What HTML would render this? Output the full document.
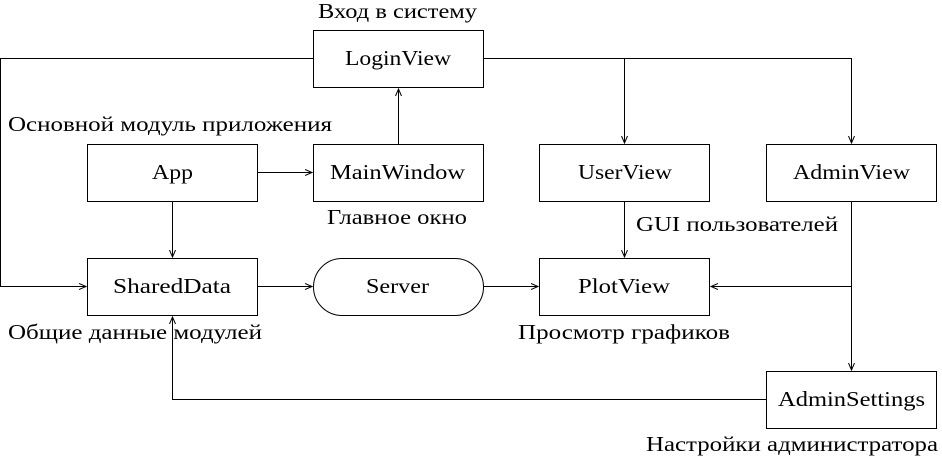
<!DOCTYPE html>
<html><head><meta charset="utf-8"><style>
html,body{margin:0;padding:0;background:#fff;}
svg{display:block;}
text{font-family:"Liberation Serif","DejaVu Serif",serif;font-size:21px;fill:#000;}
</style></head><body>
<svg width="942" height="458" viewBox="0 0 942 458" xmlns="http://www.w3.org/2000/svg">
<defs><marker id="a" markerWidth="8" markerHeight="8" refX="7" refY="4" orient="auto" markerUnits="userSpaceOnUse"><path d="M0,1 L7,4 L0,7" fill="none" stroke="#000" stroke-width="1"/></marker></defs>
<g fill="none" stroke="#000" stroke-width="1">
<rect x="313.5" y="30.5" width="170" height="57"/>
<rect x="87.5" y="144.5" width="170" height="57"/>
<rect x="313.5" y="144.5" width="170" height="57"/>
<rect x="539.5" y="144.5" width="170" height="57"/>
<rect x="766.5" y="144.5" width="170" height="57"/>
<rect x="87.5" y="258.5" width="170" height="57"/>
<rect x="313.5" y="258.5" width="170" height="57" rx="28.5"/>
<rect x="539.5" y="258.5" width="170" height="57"/>
<rect x="766.5" y="371.5" width="170" height="57"/>
<path d="M313.5,58.5 H0.5 V286.5 H86" marker-end="url(#a)"/>
<path d="M483.5,58.5 H851.5 V143" marker-end="url(#a)"/>
<path d="M624.5,58.5 V143" marker-end="url(#a)"/>
<path d="M257.5,172.5 H312" marker-end="url(#a)"/>
<path d="M398.5,144.5 V89" marker-end="url(#a)"/>
<path d="M172.5,201.5 V257" marker-end="url(#a)"/>
<path d="M257.5,286.5 H312" marker-end="url(#a)"/>
<path d="M483.5,286.5 H538" marker-end="url(#a)"/>
<path d="M624.5,201.5 V257" marker-end="url(#a)"/>
<path d="M851.5,201.5 V370" marker-end="url(#a)"/>
<path d="M851.5,286.5 H711" marker-end="url(#a)"/>
<path d="M766.5,399.5 H172.5 V317" marker-end="url(#a)"/>
</g>
<g lengthAdjust="spacingAndGlyphs">
<text x="345" y="65" textLength="106" lengthAdjust="spacingAndGlyphs">LoginView</text>
<text x="152" y="179" textLength="41" lengthAdjust="spacingAndGlyphs">App</text>
<text x="330" y="179" textLength="135" lengthAdjust="spacingAndGlyphs">MainWindow</text>
<text x="578" y="179" textLength="94" lengthAdjust="spacingAndGlyphs">UserView</text>
<text x="793" y="179" textLength="117" lengthAdjust="spacingAndGlyphs">AdminView</text>
<text x="113" y="293" textLength="118" lengthAdjust="spacingAndGlyphs">SharedData</text>
<text x="366" y="293" textLength="63" lengthAdjust="spacingAndGlyphs">Server</text>
<text x="578" y="293" textLength="92" lengthAdjust="spacingAndGlyphs">PlotView</text>
<text x="778" y="406" textLength="147" lengthAdjust="spacingAndGlyphs">AdminSettings</text>
<text x="318" y="18" textLength="159" lengthAdjust="spacingAndGlyphs">Вход в систему</text>
<text x="327" y="224" textLength="140" lengthAdjust="spacingAndGlyphs">Главное окно</text>
<text x="518" y="339" textLength="212" lengthAdjust="spacingAndGlyphs">Просмотр графиков</text>
<text x="8" y="131" textLength="324" lengthAdjust="spacingAndGlyphs">Основной модуль приложения</text>
<text x="636" y="231" textLength="202" lengthAdjust="spacingAndGlyphs">GUI пользователей</text>
<text x="8" y="339" textLength="254" lengthAdjust="spacingAndGlyphs">Общие данные модулей</text>
<text x="646" y="451" textLength="292" lengthAdjust="spacingAndGlyphs">Настройки администратора</text>
</g>
</svg>
</body></html>
